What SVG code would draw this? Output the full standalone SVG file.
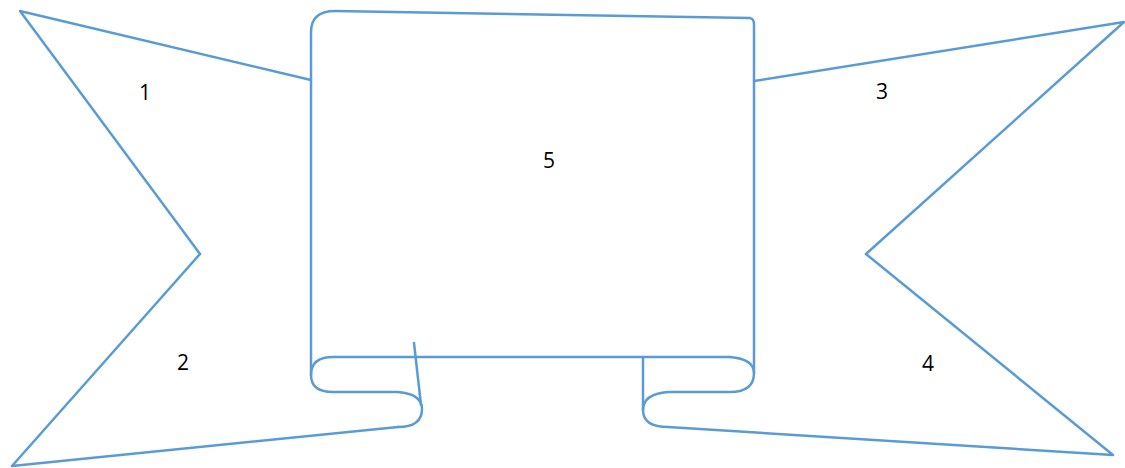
<svg xmlns="http://www.w3.org/2000/svg" width="1125" height="468" viewBox="0 0 1125 468">
<style>
.s{fill:none;stroke:#5B9BD5;stroke-width:2.5;stroke-linejoin:round;stroke-linecap:round}
.t{font-family:"Open Sans","Liberation Sans",sans-serif;font-size:21px;fill:#000;text-anchor:middle}
</style>
<rect width="1125" height="468" fill="#fff"/>
<g id="node1">
<path class="s" d="M311,80 L20,11 L200,254"/>
<text class="t" x="145" y="100">1</text>
</g>
<g id="node2">
<path class="s" d="M200,254 L12,466 L398,427"/>
<text class="t" x="183" y="370">2</text>
</g>
<g id="node3">
<path class="s" d="M754,81 L1124,22 L866,254"/>
<text class="t" x="882" y="99">3</text>
</g>
<g id="node4">
<path class="s" d="M866,254 L1113,455 L668,427"/>
<text class="t" x="928" y="371">4</text>
</g>
<g id="node5">
<path class="s" d="M311,375 L311,32 Q311,11 335,11 L750,18 Q754,19 754,24 L754,373"/>
<path class="s" d="M730,357 L333,357 Q311,357 311,375 Q311,392 333,392 L398,392 Q422,394 422,409 Q422,427 398,427"/>
<path class="s" d="M414,343 L421,405"/>
<path class="s" d="M730,357 Q754,359 754,373 Q754,392 730,392 L668,392 Q643,394 643,410 Q643,427 668,427"/>
<path class="s" d="M643,357 L643,410"/>
<text class="t" x="549" y="168">5</text>
</g>
<g id="connectors"></g>
</svg>
